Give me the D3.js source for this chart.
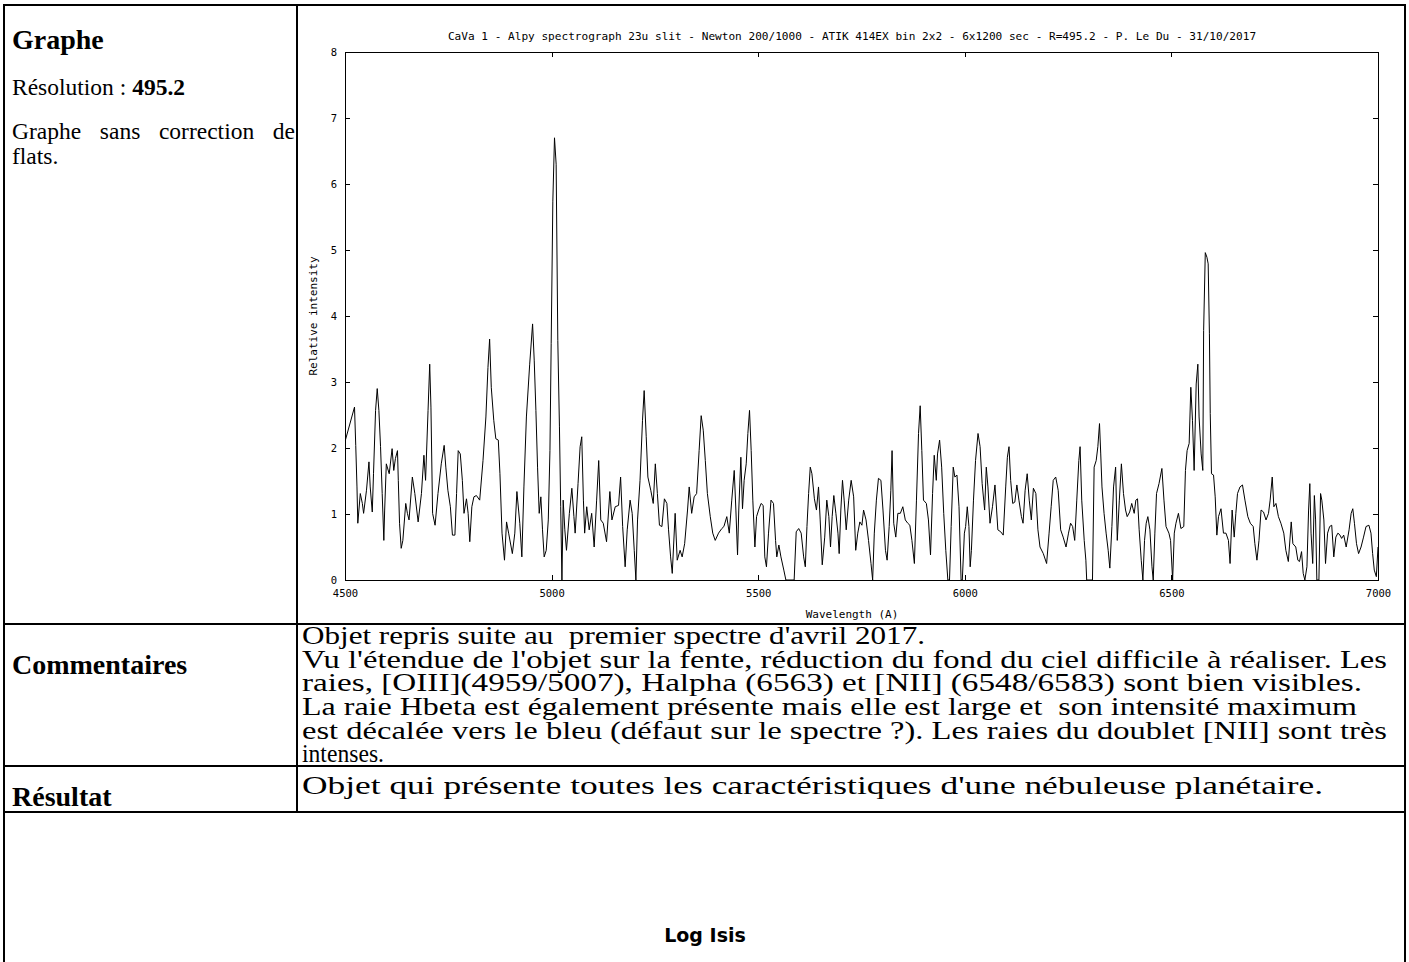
<!DOCTYPE html>
<html>
<head>
<meta charset="utf-8">
<script src="https://cdn.jsdelivr.net/npm/d3@7"></script>
<style>
  html, body { margin: 0; padding: 0; background: #fff; }
  svg { display: block; }
  text { white-space: pre; }
</style>
</head>
<body>
<svg id="page" width="1409" height="962"></svg>
<script>
// spectrum (Angstrom / relative intensity)
const wavelength = [
  4501, 4523, 4526, 4529, 4531, 4537, 4542, 4545, 4552, 4558, 4561, 4566, 4569, 4574, 4578, 4582, 4586, 4590, 4594, 4596,
  4600, 4607, 4614, 4618, 4622, 4627, 4629, 4632, 4636, 4640, 4647, 4651, 4655, 4663, 4669, 4677, 4685, 4691, 4695,
  4701, 4705, 4708, 4712, 4718, 4725, 4733, 4740, 4744, 4749, 4755, 4760, 4766, 4770, 4774, 4779, 4784, 4788, 4794, 4798,
  4802, 4807, 4812, 4818, 4826, 4834, 4841, 4846, 4850, 4854, 4860, 4865, 4871, 4875, 4880, 4886, 4891, 4896,
  4905, 4911, 4916, 4923, 4928, 4933, 4939, 4947, 4954, 4958, 4962, 4966, 4970, 4974, 4978, 4982, 4987, 4992, 4996, 4999,
  5003, 5007, 5011, 5015, 5019, 5022, 5025, 5028, 5032, 5036, 5043, 5049, 5054, 5057, 5064, 5069, 5073, 5077, 5080, 5085, 5091, 5097,
  5103, 5109, 5114, 5119, 5125, 5133, 5141, 5146, 5154, 5162, 5167, 5172, 5178, 5183, 5190, 5195,
  5200, 5204, 5208, 5214, 5220, 5224, 5229, 5233, 5240, 5246, 5251, 5256, 5261, 5267, 5273, 5279, 5283, 5288, 5292, 5299,
  5304, 5311, 5316, 5322, 5329, 5333, 5339, 5345, 5351, 5357, 5362, 5367, 5372, 5377, 5384, 5390, 5396,
  5404, 5412, 5417, 5424, 5430, 5436, 5442, 5446, 5450, 5453, 5458, 5462, 5466, 5471, 5475, 5479, 5483, 5487, 5492, 5496,
  5501, 5507, 5512, 5516, 5520, 5525, 5531, 5537, 5542, 5545, 5550, 5555, 5562, 5567, 5587, 5592, 5598,
  5604, 5610, 5614, 5618, 5622, 5626, 5630, 5636, 5641, 5646, 5650, 5655, 5661, 5666, 5671, 5675, 5679, 5683, 5688, 5693, 5696,
  5700, 5704, 5708, 5713, 5719, 5725, 5731, 5736, 5741, 5746, 5751, 5755, 5761, 5767, 5773, 5777, 5781, 5786, 5791, 5797,
  5802, 5808, 5812, 5817, 5821, 5824, 5828, 5833, 5838, 5844, 5850, 5856, 5862, 5867, 5872, 5878, 5883, 5888, 5892, 5896,
  5900, 5907, 5912, 5917, 5922, 5926, 5931, 5934, 5939, 5944, 5949, 5954, 5959, 5963, 5967, 5972, 5976, 5981, 5986, 5991, 5994, 5999,
  6002, 6006, 6010, 6013, 6016, 6021, 6026, 6032, 6037, 6042, 6048, 6052, 6056, 6061, 6067, 6073, 6077, 6080, 6087, 6093, 6099,
  6103, 6107, 6111, 6116, 6121, 6126, 6131, 6137, 6141, 6146, 6151, 6156, 6161, 6166, 6172, 6177, 6182, 6190, 6198,
  6204, 6209, 6214, 6220, 6226, 6232, 6238, 6245, 6251, 6256, 6261, 6266, 6271, 6276, 6279, 6283, 6289, 6293, 6295,
  6309, 6313, 6318, 6322, 6326, 6329, 6332, 6337, 6342, 6347, 6351, 6356, 6360, 6365, 6369, 6374, 6379, 6384, 6389, 6393, 6399,
  6404, 6410, 6414, 6418, 6422, 6427, 6431, 6435, 6439, 6443, 6448, 6453, 6456, 6460, 6464, 6470, 6477, 6482, 6487, 6494, 6498,
  6503, 6507, 6511, 6517, 6523, 6530, 6534, 6538, 6543, 6547, 6551, 6555, 6560, 6564, 6567, 6572, 6576, 6578, 6582, 6586, 6589, 6592, 6594, 6597,
  6602, 6606, 6610, 6614, 6620, 6626, 6632, 6638, 6642, 6647, 6652, 6656, 6660, 6666, 6672, 6678, 6685, 6691, 6698,
  6702, 6707, 6712, 6717, 6723, 6729, 6735, 6739, 6744, 6748, 6753, 6759, 6765, 6772, 6777, 6783, 6790, 6794,
  6801, 6806, 6810, 6815, 6819, 6823, 6828, 6832, 6835, 6838, 6842, 6846, 6849, 6852, 6857, 6861, 6864, 6869, 6873, 6878, 6883, 6888, 6893, 6898,
  6903, 6908, 6912, 6917, 6923, 6930, 6935, 6939, 6943, 6948, 6953, 6959, 6965, 6971, 6978, 6983, 6987, 6991, 6996, 7000
];
const intensity = [
  2.12, 2.62, 2.04, 1.41, 0.86, 1.31, 1.16, 1.01, 1.36, 1.79, 1.41, 1.03, 1.61, 2.57, 2.90, 2.57, 2.02, 1.31, 0.60, 1.06,
  1.76, 1.61, 1.99, 1.66, 1.84, 1.96, 1.51, 0.86, 0.48, 0.60, 1.16, 1.01, 0.91, 1.56, 1.31, 0.88, 1.31, 1.89, 1.51,
  2.57, 3.27, 2.62, 1.01, 0.83, 1.31, 1.76, 2.04, 1.71, 1.36, 1.11, 0.68, 0.68, 1.31, 1.96, 1.91, 1.51, 1.01, 1.23, 1.01,
  0.58, 1.11, 1.26, 1.28, 1.21, 1.81, 2.47, 3.22, 3.65, 2.92, 2.42, 2.14, 2.12, 1.61, 0.71, 0.30, 0.88, 0.71,
  0.40, 0.71, 1.34, 0.86, 0.35, 1.41, 2.47, 3.27, 3.88, 3.32, 2.57, 1.71, 1.01, 1.26, 0.76, 0.35, 0.45, 0.91, 1.96, 3.58,
  5.74, 6.70, 6.30, 3.63, 2.32, 1.11, 0.00, 1.21, 0.76, 0.45, 1.01, 1.39, 0.96, 0.71, 1.46, 2.02, 2.17, 1.21, 0.71, 1.11, 0.76, 1.01,
  0.50, 1.21, 1.81, 0.91, 0.86, 0.58, 1.34, 0.91, 1.11, 1.13, 1.56, 0.81, 0.20, 0.76, 1.21, 1.01,
  0.45, 0.00, 0.91, 1.51, 2.42, 2.87, 2.17, 1.56, 1.36, 1.16, 1.76, 1.31, 0.83, 0.81, 1.23, 1.16, 0.76, 0.35, 0.10, 1.01,
  0.30, 0.45, 0.35, 0.55, 1.06, 1.41, 1.01, 1.26, 1.31, 1.96, 2.49, 2.27, 1.81, 1.31, 0.96, 0.71, 0.60,
  0.71, 0.78, 0.81, 0.96, 0.71, 1.21, 1.66, 1.06, 0.38, 1.06, 1.86, 1.08, 1.51, 1.76, 2.22, 2.57, 1.96, 1.21, 0.50, 0.96,
  1.06, 1.16, 1.13, 0.35, 0.20, 0.71, 1.21, 1.16, 0.60, 0.35, 0.53, 0.35, 0.15, 0.00, 0.00, 0.73, 0.78,
  0.71, 0.35, 0.20, 0.81, 1.31, 1.71, 1.61, 1.23, 1.06, 1.41, 0.91, 0.23, 0.65, 1.21, 0.96, 0.50, 0.96, 1.28, 1.01, 0.71, 0.40,
  1.06, 1.51, 1.21, 0.76, 1.21, 1.51, 1.26, 0.45, 0.71, 0.88, 0.83, 1.06, 0.91, 0.60, 0.25, 0.00, 0.71, 1.21, 1.54, 1.51,
  1.06, 0.45, 0.30, 0.81, 1.36, 1.96, 0.86, 0.65, 1.01, 1.01, 1.11, 0.91, 0.86, 0.83, 0.60, 0.25, 1.21, 2.22, 2.64, 1.96,
  1.21, 1.16, 0.91, 0.38, 1.31, 1.89, 1.51, 1.91, 2.12, 1.71, 1.01, 0.45, 0.00, 0.00, 0.81, 1.71, 1.56, 1.59, 1.11, 0.00, 0.00, 0.71,
  0.81, 1.11, 0.81, 0.20, 0.45, 1.21, 1.81, 2.22, 2.02, 1.46, 1.06, 1.71, 1.41, 0.86, 1.11, 1.44, 1.06, 0.76, 0.73, 0.68, 1.41,
  1.86, 2.02, 1.51, 1.16, 1.18, 1.44, 1.21, 0.96, 0.86, 1.36, 1.61, 1.21, 0.91, 1.39, 1.31, 0.76, 0.50, 0.40, 0.25,
  0.71, 1.11, 1.51, 1.56, 1.36, 0.76, 0.65, 0.50, 0.71, 0.86, 0.81, 0.60, 1.21, 1.81, 2.02, 1.21, 0.60, 0.30, 0.00,
  0.00, 1.71, 1.81, 2.02, 2.37, 1.91, 1.41, 1.01, 0.71, 0.45, 0.18, 0.81, 1.41, 1.71, 0.60, 1.21, 1.76, 1.31, 1.06, 0.96, 1.03,
  1.16, 1.01, 1.21, 1.23, 0.76, 0.30, 0.00, 0.60, 0.86, 0.96, 0.76, 0.20, 0.00, 0.71, 1.31, 1.46, 1.69, 1.21, 0.81, 0.71, 0.60,
  0.00, 0.71, 0.86, 1.01, 0.78, 0.81, 1.66, 1.96, 2.07, 2.92, 2.42, 1.66, 2.97, 3.27, 2.47, 1.91, 1.66, 3.78, 4.96, 4.89, 4.79, 3.73, 2.52, 1.61,
  1.59, 1.26, 0.68, 0.96, 1.08, 0.71, 0.71, 0.60, 0.25, 1.06, 0.65, 1.01, 1.31, 1.41, 1.44, 1.21, 0.96, 0.86, 0.81,
  0.55, 0.30, 0.60, 1.06, 1.03, 0.91, 1.01, 1.21, 1.56, 1.11, 1.16, 0.96, 0.86, 0.71, 0.45, 0.28, 0.88, 0.55,
  0.50, 0.30, 0.28, 0.43, 0.10, 0.00, 0.20, 1.06, 1.46, 0.71, 0.25, 1.28, 0.91, 0.00, 0.00, 1.31, 1.21, 0.91, 0.25, 0.71, 0.81, 0.83, 0.35, 0.65,
  0.71, 0.68, 0.63, 0.68, 0.50, 0.76, 1.01, 1.08, 0.86, 0.55, 0.40, 0.50, 0.65, 0.81, 0.83, 0.71, 0.40, 0.15, 0.05, 0.50
];

const xTicks = [4500, 5000, 5500, 6000, 6500, 7000];
const yTicks = [0, 1, 2, 3, 4, 5, 6, 7, 8];
const chartTitle = 'CaVa 1 - Alpy spectrograph 23u slit - Newton 200/1000 - ATIK 414EX bin 2x2 - 6x1200 sec - R=495.2 - P. Le Du - 31/10/2017';
const xLabel = 'Wavelength (A)';
const yLabel = 'Relative intensity';

const commentLines = [
  'Objet repris suite au\u00a0 premier spectre d\'avril 2017.',
  'Vu l\'étendue de l\'objet sur la fente, réduction du fond du ciel difficile à réaliser. Les',
  'raies, [OIII](4959/5007), Halpha (6563) et [NII] (6548/6583) sont bien visibles.',
  'La raie Hbeta est également présente mais elle est large et\u00a0 son intensité maximum',
  'est décalée vers le bleu (défaut sur le spectre ?). Les raies du doublet [NII] sont très',
  'intenses.'
];
const resultText = 'Objet qui présente toutes les caractéristiques d\'une nébuleuse planétaire.';

const serif = '"Liberation Serif", "Times New Roman", serif';
const mono = '"DejaVu Sans Mono", "Liberation Mono", monospace';

const svg = d3.select('#page');

// ---- table rules ----
const rules = svg.append('g')
  .attr('stroke', '#000')
  .attr('stroke-width', 2)
  .attr('shape-rendering', 'crispEdges');
[
  [3, 5, 1406, 5],
  [4, 4, 4, 962],
  [1405, 4, 1405, 962],
  [297, 4, 297, 812],
  [3, 624, 1406, 624],
  [3, 766, 1406, 766],
  [3, 812, 1406, 812]
].forEach(([x1, y1, x2, y2]) => {
  rules.append('line').attr('x1', x1).attr('y1', y1).attr('x2', x2).attr('y2', y2);
});

// ---- left column ----
const left = svg.append('g').attr('font-family', serif).attr('fill', '#000');
left.append('text')
  .attr('x', 12).attr('y', 49)
  .attr('font-size', 28).attr('font-weight', 'bold')
  .text('Graphe');
const reso = left.append('text').attr('x', 12).attr('y', 95).attr('font-size', 23.5);
reso.append('tspan').text('Résolution : ');
reso.append('tspan').attr('font-weight', 'bold').text('495.2');

// justified paragraph : spread the words over the cell width
const just = left.append('text')
  .attr('x', 12).attr('y', 139)
  .attr('font-size', 23.5)
  .text('Graphe sans correction de');
const natural = just.node().getComputedTextLength();
just.style('word-spacing', ((295 - 12) - natural) / 3 + 'px');
left.append('text')
  .attr('x', 12).attr('y', 164)
  .attr('font-size', 23.5)
  .text('flats.');

left.append('text')
  .attr('x', 12).attr('y', 674)
  .attr('font-size', 28).attr('font-weight', 'bold')
  .text('Commentaires');
left.append('text')
  .attr('x', 12).attr('y', 806)
  .attr('font-size', 28).attr('font-weight', 'bold')
  .text('Résultat');

// ---- comments / result ----
// line ends as laid out in the reference cell
const commentEnd = [925, 1387, 1362, 1357, 1387, 384];
const commentBase = [644, 668, 691, 715, 739, 762];
svg.append('g')
  .attr('font-family', serif)
  .attr('font-size', 26)
  .attr('fill', '#000')
  .selectAll('text')
  .data(commentLines)
  .join('text')
  .attr('x', 302)
  .attr('y', (d, i) => commentBase[i])
  .attr('textLength', (d, i) => commentEnd[i] - 302)
  .attr('lengthAdjust', 'spacingAndGlyphs')
  .text(d => d);

svg.append('text')
  .attr('x', 302).attr('y', 794)
  .attr('font-family', serif)
  .attr('font-size', 26)
  .attr('textLength', 1323 - 302)
  .attr('lengthAdjust', 'spacingAndGlyphs')
  .text(resultText);

svg.append('text')
  .attr('x', 705).attr('y', 942)
  .attr('text-anchor', 'middle')
  .attr('font-family', '"Comic Sans MS", "DejaVu Sans", sans-serif')
  .attr('font-weight', 'bold')
  .attr('font-size', 19)
  .text('Log Isis');

// ---- spectrum plot (gnuplot look) ----
const x = d3.scaleLinear().domain([4500, 7000]).range([345, 1378]);
const y = d3.scaleLinear().domain([0, 8]).range([580, 52]);
const chart = svg.append('g').attr('font-family', mono).attr('font-size', 10.5);

const axisStyle = g => {
  g.select('.domain').remove();
  g.selectAll('.tick line').attr('stroke', '#000').attr('shape-rendering', 'crispEdges');
  g.selectAll('.tick text').attr('fill', '#000').attr('font-family', mono).attr('font-size', 10.5);
};

chart.append('g')
  .attr('transform', `translate(0,${y(0)})`)
  .call(d3.axisBottom(x).tickValues(xTicks).tickSize(-5).tickPadding(10).tickFormat(d3.format('d')))
  .call(axisStyle);
chart.append('g')
  .attr('transform', `translate(0,${y(8)})`)
  .call(d3.axisTop(x).tickValues(xTicks).tickSize(-5).tickFormat(''))
  .call(axisStyle);
chart.append('g')
  .attr('transform', `translate(${x(4500)},0)`)
  .call(d3.axisLeft(y).tickValues(yTicks).tickSize(-5).tickPadding(8).tickFormat(d3.format('d')))
  .call(axisStyle);
chart.append('g')
  .attr('transform', `translate(${x(7000)},0)`)
  .call(d3.axisRight(y).tickValues(yTicks).tickSize(-5).tickFormat(''))
  .call(axisStyle);

chart.append('rect')
  .attr('x', x(4500)).attr('y', y(8))
  .attr('width', x(7000) - x(4500)).attr('height', y(0) - y(8))
  .attr('fill', 'none').attr('stroke', '#000')
  .attr('shape-rendering', 'crispEdges');

const spectrum = wavelength.map((w, i) => [w, intensity[i]]);
chart.append('path')
  .datum(spectrum)
  .attr('fill', 'none')
  .attr('stroke', '#000')
  .attr('stroke-width', 1)
  .attr('d', d3.line().x(d => x(d[0])).y(d => y(d[1])));

chart.append('text')
  .attr('x', 852).attr('y', 40)
  .attr('text-anchor', 'middle')
  .attr('font-size', 11.1)
  .text(chartTitle);
chart.append('text')
  .attr('x', 852).attr('y', 618)
  .attr('text-anchor', 'middle')
  .attr('font-size', 11)
  .text(xLabel);
chart.append('text')
  .attr('transform', 'translate(317,316) rotate(-90)')
  .attr('text-anchor', 'middle')
  .attr('font-size', 11)
  .text(yLabel);
</script>
</body>
</html>
